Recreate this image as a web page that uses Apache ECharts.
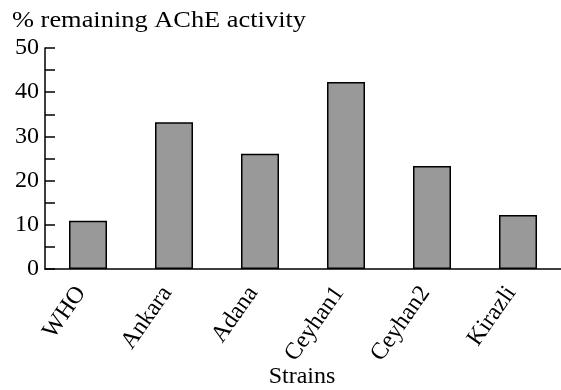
<!DOCTYPE html>
<html><head><meta charset="utf-8">
<script src="https://cdn.jsdelivr.net/npm/echarts@6/dist/echarts.min.js"></script>
<style>html,body{margin:0;padding:0;background:#fff}#c{width:561px;height:390px}</style>
</head><body><div id="c"></div>
<script>
var categories = ['WHO', 'Ankara', 'Adana', 'Ceyhan1', 'Ceyhan2', 'Kirazli'];
var values = [10.9, 33.2, 26.1, 42.3, 23.3, 12.2];
var yTicks = [0, 10, 20, 30, 40, 50];
var yTitle = '% remaining AChE activity';
var xTitle = 'Strains';

var FONTFAM = '"Liberation Serif", serif';
var chart = echarts.init(document.getElementById('c'));
chart.setOption({
  animation: false,
  graphic: [
    {type: 'text', x: 12, y: 21, scaleX: 1.1,
     style: {text: yTitle, font: '24px ' + FONTFAM, fill: '#000', textAlign: 'left', textVerticalAlign: 'middle'}},
    {type: 'text', x: 302, y: 377,
     style: {text: xTitle, font: '24px ' + FONTFAM, fill: '#000', textAlign: 'center', textVerticalAlign: 'middle'}}
  ],
  grid: {left: 45, top: 48, width: 521, height: 221, containLabel: false},
  xAxis: {
    type: 'category', data: categories,
    axisLine: {lineStyle: {color: '#000', width: 1.5}},
    axisTick: {inside: true, length: 10, lineStyle: {color: '#000', width: 1.5}},
    axisLabel: {rotate: 55, margin: 10, padding: [0, 12, 0, 0], fontFamily: FONTFAM, fontSize: 24, color: '#000', interval: 0}
  },
  yAxis: {
    type: 'value', min: yTicks[0], max: yTicks[yTicks.length - 1], interval: 10,
    axisLine: {show: true, lineStyle: {color: '#000', width: 1.5}},
    axisTick: {show: true, inside: true, length: 10, lineStyle: {color: '#000', width: 1.5}},
    minorTick: {show: true, splitNumber: 2, length: 10, lineStyle: {color: '#000', width: 1.5}},
    splitLine: {show: false},
    axisLabel: {margin: 6, fontFamily: FONTFAM, fontSize: 24, color: '#000'}
  },
  series: [{
    type: 'bar', data: values, barWidth: 38,
    itemStyle: {color: '#999999', borderColor: '#000', borderWidth: 1.5}
  }]
});
</script></body></html>
